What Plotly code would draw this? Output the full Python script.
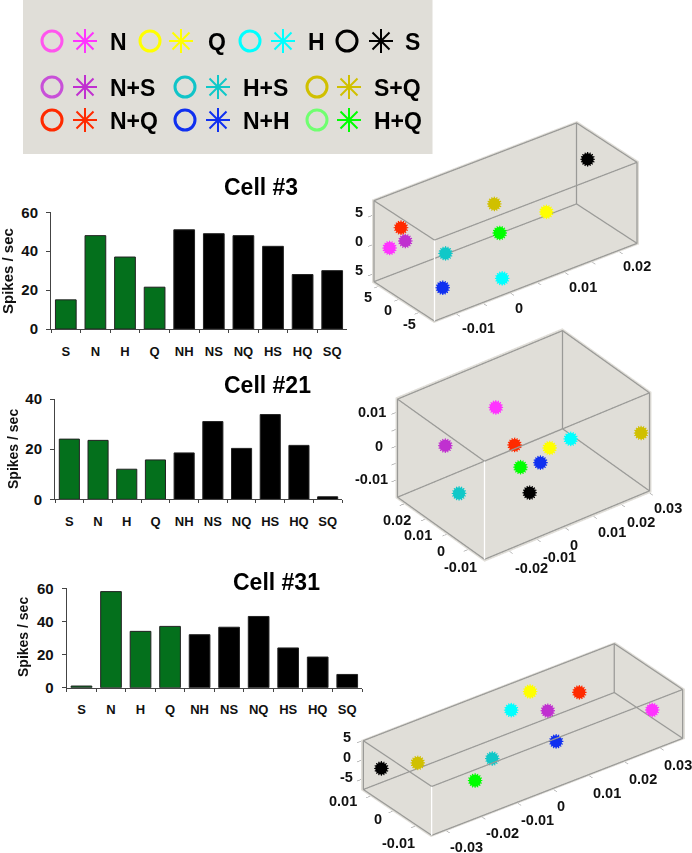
import math
import plotly.graph_objects as go

W, H = 692, 853
categories = ["S", "N", "H", "Q", "NH", "NS", "NQ", "HS", "HQ", "SQ"]
cell3_rates = [15, 48, 37, 21.5, 51, 49, 48, 42.5, 28, 30]
cell21_rates = [24, 23.5, 12, 15.7, 18.5, 31, 20.3, 33.8, 21.5, 1]
cell31_rates = [1, 58, 34, 37, 32, 36.5, 43, 24, 18.5, 8]

conditions = ["N", "Q", "H", "S", "N+S", "H+S", "S+Q", "N+Q", "N+H", "H+Q"]
circle_colors = ["#ff55ee", "#ffff00", "#00ffff", "#000000", "#c850d8", "#10c4c8", "#d0c000", "#ff2a00", "#1030f0", "#70ff70"]
star_colors = ["#ff33ff", "#ffff00", "#00ffff", "#000000", "#c030d0", "#10c8c8", "#d0c000", "#ff2a00", "#1030f0", "#00ff00"]

cell3_x = [-.0133, .0122, .00005, .0198, -.0104, -.0064, .0026, -.0112, -.0092, .0036]
cell3_y = [3.4, -1.2, -6.59, -1.2, 3.4, -1.2, -1.2, 3.4, -4.28, -1.2]
cell3_z = [.58, -.25, -4.85, 6.0, .75, -.73, 4.5, 3.29, -4.2, -.79]

cell21_x = [.0004, .0101, .0176, -.0034, -.0144, -.0190, .0284, -.0024, .0068, -.0003]
cell21_y = [.0155, .0030, .0030, -.0054, .0197, .0072, -.0158, .0030, .0030, .0030]
cell21_z = [.0053, -.0044, -.0043, -.0092, -.0028, -.0097, .0022, .0008, -.0076, -.0065]

cell31_x = [.0315, .0110, .0037, -.0327, .0120, -.0114, -.0225, .0248, .0065, -.0162]
cell31_y = [-.0109, .0110, .0078, .0078, .0047, -.0078, .0078, .0110, -.0078, -.0078]
cell31_z = [-.71, 2.90, 1.93, -.19, 0, .83, -2.41, -2.27, -1.13, -3.19]

FONT = "Liberation Sans"
BG = "#e0ded8"
fig = go.Figure()


def px(x):
    return x / W


def py(y):
    return 1 - y / H


def bars(idx, rates, x0, x1, y0, ytop, vmax, dtick):
    sfx = "" if idx == 1 else str(idx)
    colors = ["#04701c"] * 4 + ["#000000"] * 6
    fig.add_trace(go.Bar(x=categories, y=rates, marker=dict(color=colors, line=dict(color="#222222", width=1)),
                         xaxis="x" + sfx, yaxis="y" + sfx, showlegend=False, hoverinfo="skip"))
    fig.layout["xaxis" + sfx] = dict(domain=[px(x0), px(x1)], anchor="y" + sfx, type="category", tickson="boundaries",
                                     ticks="outside", ticklen=3, tickcolor="#444", linecolor="#444", linewidth=1, showgrid=False,
                                     ticklabelstandoff=10,
                                     tickfont=dict(family=FONT, size=13, color="#111", weight=700), tickangle=0)
    fig.layout["yaxis" + sfx] = dict(domain=[py(y0), py(ytop)], anchor="x" + sfx, range=[0, vmax], dtick=dtick, ticks="outside",
                                     ticklen=4, tickcolor="#444", linecolor="#444", linewidth=1, showgrid=False, zeroline=False,
                                     ticklabelstandoff=5,
                                     tickfont=dict(family=FONT, size=15, color="#111", weight=700))


bars(1, cell3_rates, 51, 347, 329, 212.3, 60, 20)
bars(2, cell21_rates, 55, 342, 499.3, 399, 40, 20)
bars(3, cell31_rates, 66.7, 362, 687.7, 588.3, 60, 20)

# legend panel
fig.add_shape(type="rect", xref="paper", yref="paper", x0=px(23), x1=px(432.5), y0=py(154), y1=py(0),
              fillcolor=BG, line_width=0, layer="below")
key_circle_x = [52, 150, 250, 347, 52, 185, 317, 52, 185, 317]
key_star_x = [85, 181, 283, 381, 85, 218, 349, 85, 218, 349]
key_y = [41, 41, 41, 41, 87, 87, 87, 120, 120, 120]
key_text_x = [108, 206, 306, 403, 108, 241, 372, 108, 241, 372]
fig.add_trace(go.Scatter(x=key_circle_x, y=key_y, mode="markers", xaxis="x4", yaxis="y4", showlegend=False, hoverinfo="skip",
                         marker=dict(symbol="circle-open", size=20, color=circle_colors, line=dict(width=3, color=circle_colors))))
fig.add_trace(go.Scatter(x=key_star_x, y=key_y, mode="markers", xaxis="x4", yaxis="y4", showlegend=False, hoverinfo="skip",
                         marker=dict(symbol="asterisk-open", size=20, color=star_colors, line=dict(width=2, color=star_colors))))
fig.layout.xaxis4 = dict(domain=[0, 1], range=[0, W], visible=False, anchor="y4")
fig.layout.yaxis4 = dict(domain=[0, 1], range=[H, 0], visible=False, anchor="x4")
anns = []


def label(t, x, y, size, color="#000", angle=0, anchor="center"):
    anns.append(dict(x=px(x), y=py(y), text=t, xanchor=anchor, yanchor="middle", xref="paper", yref="paper", showarrow=False,
                     textangle=angle, font=dict(family=FONT, size=size, color=color, weight=700)))


for t, x, y in zip(conditions, key_text_x, key_y):
    label(t, x, y + 1, 23, anchor="left")
for t, x, y in [("Cell #3", 261, 187), ("Cell #21", 267, 385), ("Cell #31", 276, 582)]:
    label(t, x, y, 23)
for x, y, s in [(7, 271, 15), (13, 449, 14), (23, 637, 14)]:
    label("Spikes / sec", x, y, s, "#111", -90)

# tick labels of the three boxes, set beside their edges as in the original figure
for t, x, y in [("-0.01", 478.3, 328.3), ("0", 519.3, 308.3), ("0.01", 583.3, 286.7), ("0.02", 637.3, 266),
                ("5", 368.3, 296.7), ("0", 388.3, 310), ("-5", 409.3, 324),
                ("5", 359.3, 211.7), ("0", 359.3, 240.7), ("5", 359.3, 270),
                ("-0.02", 531, 568.3), ("-0.01", 559.3, 557.3), ("0", 574, 545), ("0.01", 611.7, 532.3), ("0.02", 641, 521.7), ("0.03", 668.3, 508.3),
                ("0.02", 396.7, 520), ("0.01", 418.3, 535), ("0", 440.7, 550.7), ("-0.01", 460.7, 567.3),
                ("0.01", 372.3, 411.7), ("0", 379.3, 446), ("-0.01", 371.7, 479.3),
                ("-0.03", 466.7, 847.3), ("-0.02", 502.7, 833.3), ("-0.01", 537.3, 820), ("0", 560.7, 806), ("0.01", 606.7, 792.7), ("0.02", 642.7, 779.3), ("0.03", 678.3, 765),
                ("0.01", 343.3, 801), ("0", 378.3, 819), ("-0.01", 398.3, 842.7),
                ("5", 347.3, 736.7), ("0", 347.3, 756.7), ("-5", 346.7, 777.3)]:
    label(t, x, y, 14.5, "#111")
fig.layout.annotations = anns

S_PER_UNIT = 160.0  # viewport of 320 px spans two scene units in orthographic mode
EYE_DIST = 3.0
INSET = 0.006  # keeps the edge lines just inside the clipping bounds of the scene


def scene3d(name, xs, ys, zs, xr, yr, zr, xticks, yticks, zticks, lens, az, el, center, dom):
    a, p = math.radians(az), math.radians(el)
    R = (math.cos(a), -math.sin(a), 0)
    U = (math.sin(a) * math.sin(p), math.cos(a) * math.sin(p), math.cos(p))
    E = (-math.sin(a) * math.cos(p), -math.cos(a) * math.cos(p), math.sin(p))
    dx = center[0] - (dom[0] + dom[1]) / 2
    dy = (dom[2] + dom[3]) / 2 - center[1]
    c = [-(dx * R[i] + dy * U[i]) / S_PER_UNIT for i in range(3)]
    eye = [c[i] + EYE_DIST * E[i] for i in range(3)]
    ix = (xr[1] - xr[0]) * INSET
    iy = (yr[1] - yr[0]) * INSET * 2
    iz = (zr[1] - zr[0]) * INSET * 2
    x0, x1 = xr[0] + ix, xr[1] - ix
    y0, y1 = yr[0] + iy, yr[1] - iy
    z0, z1 = zr[0] + iz, zr[1] - iz
    # box edges from the axis ranges
    ex = [x0, x1, x1, x0, x0, None, x0, x1, x1, x0, x0, None, x1, x1, None, x0, x0, None, x1, x1]
    ey = [y0, y0, y1, y1, y0, None, y0, y0, y1, y1, y0, None, y1, y1, None, y1, y1, None, y0, y0]
    ez = [z1, z1, z1, z1, z1, None, z0, z0, z0, z0, z0, None, z0, z1, None, z0, z1, None, z0, z1]
    fig.add_trace(go.Scatter3d(x=ex, y=ey, z=ez, mode="lines", line=dict(color="#9a9a97", width=2.5), scene=name,
                               showlegend=False, hoverinfo="skip"))
    fig.add_trace(go.Scatter3d(x=[x0, x0], y=[y0, y0], z=[z0, z1], mode="lines", line=dict(color="#ffffff", width=2.5), scene=name,
                               showlegend=False, hoverinfo="skip"))
    fig.add_trace(go.Scatter3d(x=xs, y=ys, z=zs, mode="markers+text", text=["✺"] * len(xs), textposition="middle center",
                               textfont=dict(size=20, family="DejaVu Sans", color=star_colors), scene=name, showlegend=False, hoverinfo="skip",
                               marker=dict(size=7, color=star_colors, line=dict(width=0), opacity=1)))
    ax = dict(showgrid=False, zeroline=False, showline=False, showbackground=True, backgroundcolor=BG, showspikes=False,
              ticks="outside", ticklen=5, tickcolor="#777", showticklabels=False, title=dict(text=""), autorange=False)
    fig.layout[name] = dict(
        domain=dict(x=[px(dom[0]), px(dom[1])], y=[py(dom[3]), py(dom[2])]),
        aspectmode="manual", aspectratio=dict(x=lens[0] / S_PER_UNIT, y=lens[1] / S_PER_UNIT, z=lens[2] / S_PER_UNIT),
        bgcolor="rgba(0,0,0,0)",
        camera=dict(projection=dict(type="orthographic"), up=dict(x=0, y=0, z=1),
                    center=dict(x=c[0], y=c[1], z=c[2]), eye=dict(x=eye[0], y=eye[1], z=eye[2])),
        xaxis=dict(ax, range=list(xr), tickmode="array", tickvals=xticks),
        yaxis=dict(ax, range=list(yr), tickmode="array", tickvals=yticks),
        zaxis=dict(ax, range=list(zr), tickmode="array", tickvals=zticks),
    )


scene3d("scene", cell3_x, cell3_y, cell3_z, (-.0142, .0236), (-8.9, 6.5), (-6.4, 7.7),
        [-.01, -.005, 0, .005, .01, .015, .02], [-5, 0, 5], [-5, 0, 5],
        (258.4, 101.8, 95.8), 37.5, 30, (505.5, 222), (345, 665, 62, 382))
scene3d("scene2", cell21_x, cell21_y, cell21_z, (-.0289, .0306), (-.0179, .0239), (-.01525, .01446),
        [-.02, -.01, 0, .01, .02, .03], [-.01, 0, .01, .02], [-.01, -.005, 0, .005, .01],
        (209.9, 147, 119.8), 37.3, 33, (523.5, 445), (350, 692, 285, 605))
scene3d("scene3", cell31_x, cell31_y, cell31_z, (-.0344, .0368), (-.0172, .0141), (-7.76, 5.3),
        [-.03, -.02, -.01, 0, .01, .02, .03], [-.01, 0, .01], [-5, 0, 5],
        (318.9, 115.8, 58.1), 37.2, 30.6, (523, 739.5), (330, 692, 533, 853))

fig.update_layout(width=W, height=H, margin=dict(l=0, r=0, t=0, b=0, autoexpand=False), paper_bgcolor="#ffffff", plot_bgcolor="rgba(0,0,0,0)",
                  bargap=0.3, showlegend=False, autosize=False)
fig.write_html("out.html", config={"displayModeBar": False}, post_script="document.body.style.margin='0';")
